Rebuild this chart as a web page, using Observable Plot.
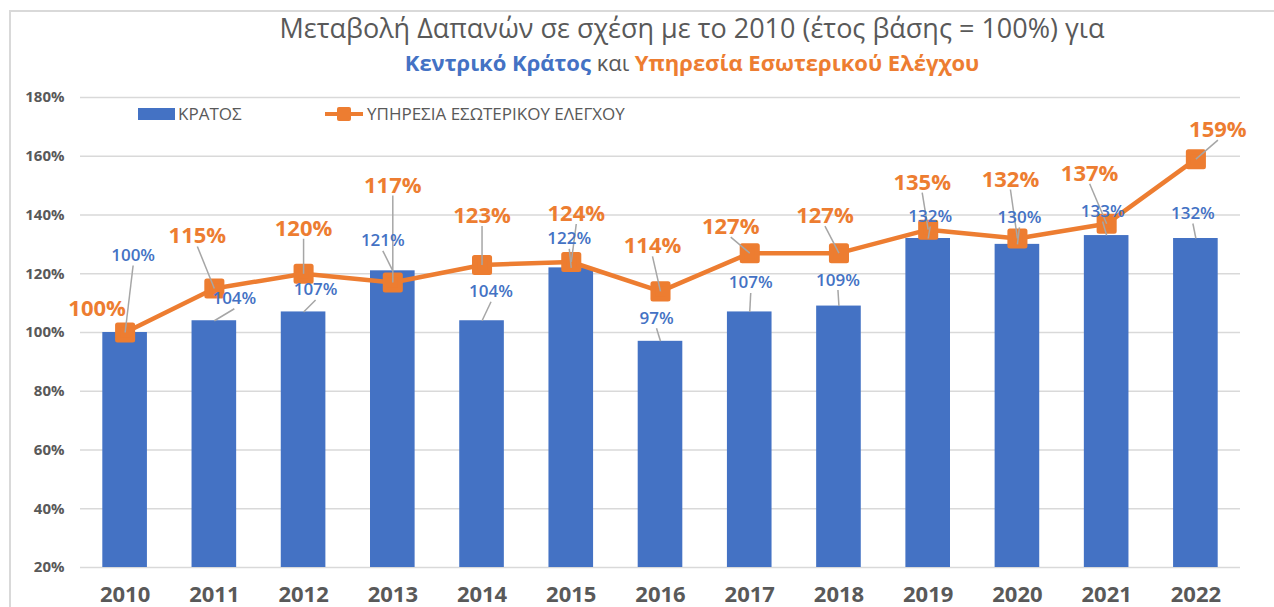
<!DOCTYPE html>
<html><head><meta charset="utf-8">
<script src="https://cdn.jsdelivr.net/npm/d3@7"></script>
<script src="https://cdn.jsdelivr.net/npm/@observablehq/plot@0.6"></script>
<style>
body{margin:0;background:#fff;font-family:"Open Sans",sans-serif;}
#wrap{position:relative;width:1274px;height:607px;overflow:hidden;background:#fff;}
#frame{position:absolute;left:9px;top:10px;right:-5px;bottom:-5px;border-left:2px solid #d9d9d9;border-top:2px solid #d9d9d9;}
#title{position:absolute;left:110px;width:1164px;top:13px;text-align:center;font-size:27px;color:#595959;line-height:30px;height:30px;white-space:nowrap;}
#subtitle{position:absolute;left:110px;width:1164px;top:49px;text-align:center;font-size:22px;font-weight:bold;color:#595959;line-height:26px;height:26px;white-space:nowrap;}
#chart{position:absolute;left:0;top:80px;}
.leg{position:absolute;font-size:17px;color:#595959;line-height:22px;white-space:nowrap;}
</style></head>
<body>
<div id="wrap">
  <div id="frame"></div>
  <div id="title">Μεταβολή Δαπανών σε σχέση με το 2010 (έτος βάσης = 100%) για</div>
  <div id="subtitle"><span style="color:#4472C4">Κεντρικό Κράτος</span> <span style="font-weight:normal;color:#595959">και</span> <span style="color:#ED7D31">Υπηρεσία Εσωτερικού Ελέγχου</span></div>
  <div id="chart"></div>
  <div style="position:absolute;left:138px;top:108px;width:37px;height:12px;background:#4472C4"></div>
  <div class="leg" style="left:178px;top:103px">ΚΡΑΤΟΣ</div>
  <div style="position:absolute;left:325px;top:112px;width:38px;height:4px;background:#ED7D31"></div>
  <div style="position:absolute;left:337px;top:107px;width:14px;height:14px;border-radius:2px;background:#ED7D31"></div>
  <div class="leg" style="left:367px;top:103px">ΥΠΗΡΕΣΙΑ ΕΣΩΤΕΡΙΚΟΥ ΕΛΕΓΧΟΥ</div>
</div>
<script>
// ---- data ----
const years = [2010, 2011, 2012, 2013, 2014, 2015, 2016, 2017, 2018, 2019, 2020, 2021, 2022];
const kratos = [100, 104, 107, 121, 104, 122, 97, 107, 109, 132, 130, 133, 132];
const ypiresia = [100, 115, 120, 117, 123, 124, 114, 127, 127, 135, 132, 137, 159];
const yTicks = [20, 40, 60, 80, 100, 120, 140, 160, 180];

// ---- label layout (pixel offsets of data labels from their points) ----
const lineLabelDx = [-28, -17, 0, 0, 0, 5, -8, -19, -14, -6, -7, -17, 22];
const lineLabelDy = [-24, -52, -45, -97, -49, -48, -45, -26, -37, -47, -59, -50, -29];
const lineLeader  = [false, true, true, true, true, true, true, true, true, true, true, true, true];
const barLabelDx = [8, 20, 12, -10, 9, -2, -4, 1, -1, 2, 2, -4, -3];
const barLabelDy = [-77, -22, -22, -30, -29, -29, -23, -29, -26, -22, -27, -24, -25];

const W = 1274, H = 527, mL = 80, mR = 34, mT = 17, mB = 40;
const yMin = 20, yMax = 180;
const pxX = (W - mL - mR) / years.length;
const pxY = (H - mT - mB) / (yMax - yMin);

const rows = years.map((y, i) => ({
  year: y, k: kratos[i], u: ypiresia[i],
  ulx: y + lineLabelDx[i] / pxX, uly: ypiresia[i] - lineLabelDy[i] / pxY,
  ulsy: ypiresia[i] - (lineLabelDy[i] + 10) / pxY, uleader: lineLeader[i],
  klx: y + barLabelDx[i] / pxX, kly: kratos[i] - barLabelDy[i] / pxY,
  klsy: kratos[i] - (barLabelDy[i] + 10) / pxY
}));

const ORANGE = "#ED7D31", BLUE = "#4472C4", GREY = "#595959", FONT = "Open Sans";

const chart = Plot.plot({
  width: W, height: H,
  marginLeft: mL, marginRight: mR, marginTop: mT, marginBottom: mB,
  x: {type: "linear", domain: [years[0] - 0.5, years[years.length - 1] + 0.5], axis: null},
  y: {domain: [yMin, yMax], axis: null},
  style: {fontFamily: FONT, background: "transparent", overflow: "visible"},
  marks: [
    Plot.ruleY(yTicks, {y: d => d, stroke: "#d9d9d9", strokeWidth: 1.3}),
    Plot.rectY(rows, {x1: d => d.year - 0.25, x2: d => d.year + 0.25, y1: yMin, y2: "k", fill: BLUE}),
    Plot.line(rows, {x: "year", y: "u", stroke: ORANGE, strokeWidth: 4.5, strokeLinejoin: "round"}),
    Plot.dot(rows, {x: "year", y: "u", symbol: "square", r: 8.5, fill: ORANGE, stroke: ORANGE, strokeWidth: 5, strokeLinejoin: "round"}),
    // leader lines
    Plot.link(rows.filter(d => d.uleader), {x1: "ulx", y1: "ulsy", x2: "year", y2: "u", stroke: "#a6a6a6", strokeWidth: 1.5}),
    Plot.link(rows, {x1: "klx", y1: "klsy", x2: "year", y2: "k", stroke: "#a6a6a6", strokeWidth: 1.5}),
    // data labels
    Plot.text(rows, {x: "klx", y: "kly", text: d => d.k + "%", fill: BLUE, fontSize: 17, fontFamily: FONT, fontWeight: 600}),
    Plot.text(rows, {x: "ulx", y: "uly", text: d => d.u + "%", fill: ORANGE, fontSize: 22, fontFamily: FONT, fontWeight: "bold"}),
    // axis tick labels
    Plot.text(yTicks, {y: d => d, text: d => d + "%", frameAnchor: "left", dx: -16, textAnchor: "end", fill: GREY, fontSize: 15, fontWeight: "bold", fontFamily: FONT}),
    Plot.text(years, {x: d => d, text: d => String(d), frameAnchor: "bottom", dy: 34, fill: GREY, fontSize: 22, fontWeight: "bold", fontFamily: FONT})
  ]
});
document.getElementById("chart").appendChild(chart);
</script>
</body></html>
